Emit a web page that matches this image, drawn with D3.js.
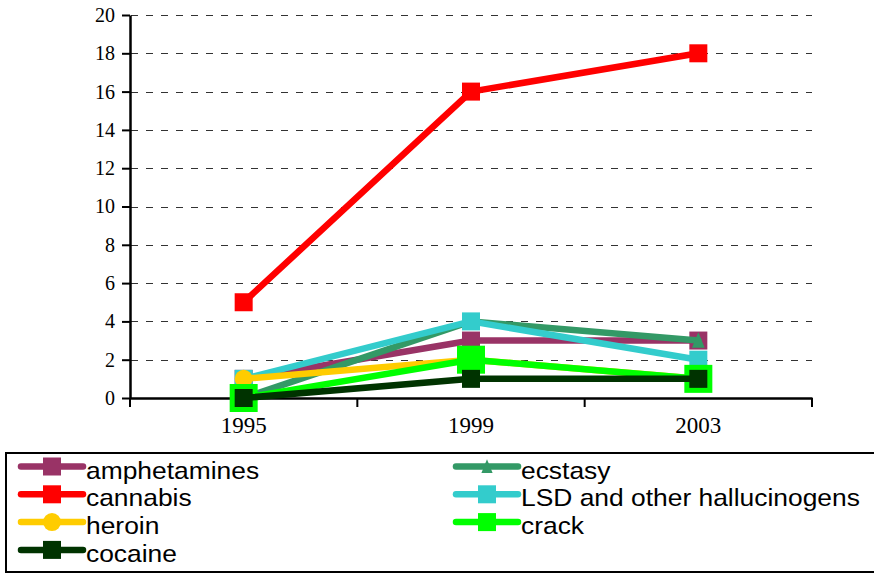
<!DOCTYPE html>
<html><head><meta charset="utf-8">
<script src="https://cdn.jsdelivr.net/npm/d3@7"></script>
<style>body{margin:0;background:#fff;overflow:hidden}
text.serif{font-family:"Liberation Serif","DejaVu Serif",serif !important}
text.sans{font-family:"Liberation Sans","DejaVu Sans",sans-serif !important}
</style>
</head><body><svg id="c" width="874" height="574"></svg>
<script>
// ---- data ----
const years = ["1995", "1999", "2003"];
const yTicks = [0, 2, 4, 6, 8, 10, 12, 14, 16, 18, 20];
const seriesNames = ["amphetamines", "ecstasy", "cannabis", "LSD and other hallucinogens", "heroin", "crack", "cocaine"];
const amphetamines = [1, 3, 3];
const ecstasy = [0, 4, 3];
const cannabis = [5, 16, 18];
const lsd = [1, 4, 2];
const heroin = [1, 2, 1];
const crack = [0, 2, 1];
const cocaine = [0, 1, 1];
const seriesValues = [amphetamines, ecstasy, cannabis, lsd, heroin, crack, cocaine];
const seriesColors = ["#993366", "#339966", "#ff0000", "#33cccc", "#ffcc00", "#00ff00", "#003300"];
const seriesMarkers = ["square", "triangle", "square", "square", "circle", "square", "square"];

// ---- layout ----
const svg = d3.select("#c");
const x = d3.scaleBand().domain(years).range([130, 812]).padding(0);
const cx = d => x(d) + x.bandwidth() / 2;
const y = d3.scaleLinear().domain([0, 20]).range([398, 15]);

// gridlines
svg.append("g").selectAll("line").data(yTicks.filter(t => t > 0)).join("line")
  .attr("x1", 131).attr("x2", 812)
  .attr("y1", d => Math.round(y(d)) + 0.5).attr("y2", d => Math.round(y(d)) + 0.5)
  .attr("stroke", "#333").attr("stroke-width", 1).attr("stroke-dasharray", "7,8");

// y axis
const yAxis = svg.append("g").attr("transform", "translate(130,0)")
  .call(d3.axisLeft(y).tickValues(yTicks).tickSize(8).tickSizeOuter(0).tickPadding(7));
yAxis.attr("font-family", "Liberation Serif").attr("font-size", 20);
yAxis.select(".domain").attr("stroke", "#000").attr("stroke-width", 2.5);
yAxis.selectAll(".tick line").attr("stroke", "#000").attr("stroke-width", 2);
yAxis.selectAll("text").attr("class", "serif").attr("fill", "#000");

// x axis
const xAxis = svg.append("g").attr("transform", "translate(0,398)")
  .call(d3.axisBottom(x).tickSize(0).tickSizeOuter(0).tickPadding(14));
xAxis.attr("font-family", "Liberation Serif").attr("font-size", 23);
xAxis.select(".domain").attr("stroke", "#000").attr("stroke-width", 2.5);
xAxis.selectAll("text").attr("class", "serif").attr("fill", "#000").attr("dy", "0.9em");
const edges = years.map(d => x(d)).concat([x.range()[1]]);
svg.append("g").selectAll("line").data(edges).join("line")
  .attr("x1", d => d).attr("x2", d => d).attr("y1", 398).attr("y2", 407)
  .attr("stroke", "#000").attr("stroke-width", 2);

// marker helper
function drawMarker(g, type, px, py, color, size) {
  if (type === "square") {
    g.append("rect").attr("x", px - size / 2).attr("y", py - size / 2)
      .attr("width", size).attr("height", size).attr("fill", color);
  } else if (type === "circle") {
    g.append("circle").attr("cx", px).attr("cy", py).attr("r", size / 2).attr("fill", color);
  } else if (type === "triangle") {
    const h = size * 0.85, w = size * 0.75;
    g.append("path").attr("d", `M${px},${py - h / 2 - 1}L${px + w / 2},${py + h / 2}L${px - w / 2},${py + h / 2}Z`)
      .attr("fill", color);
  }
}

// series
const line = d3.line().x((d, i) => cx(years[i])).y(d => y(d));
seriesNames.forEach((name, s) => {
  const g = svg.append("g");
  const vals = seriesValues[s];
  g.append("path").attr("d", line(vals)).attr("fill", "none")
    .attr("stroke", seriesColors[s]).attr("stroke-width", 6.5)
    .attr("stroke-linejoin", "round").attr("stroke-linecap", "round");
  vals.forEach((v, i) => {
    const size = name === "crack" ? 28 : (seriesMarkers[s] === "triangle" ? 17 : 18);
    drawMarker(g, seriesMarkers[s], cx(years[i]), y(v), seriesColors[s], size);
  });
});

// legend
svg.append("rect").attr("x", 6).attr("y", 453).attr("width", 900).attr("height", 119)
  .attr("fill", "none").attr("stroke", "#000").attr("stroke-width", 2);
const colX = [21, 456];
seriesNames.forEach((name, s) => {
  const col = s % 2, row = Math.floor(s / 2);
  const ly = 466.5 + row * 27.8;
  const x0 = colX[col], x1 = x0 + 62;
  const g = svg.append("g");
  g.append("line").attr("x1", x0).attr("x2", x1).attr("y1", ly).attr("y2", ly)
    .attr("stroke", seriesColors[s]).attr("stroke-width", 6.5).attr("stroke-linecap", "round");
  drawMarker(g, seriesMarkers[s], (x0 + x1) / 2, ly, seriesColors[s], seriesMarkers[s] === "triangle" ? 15 : 18);
  g.append("text").attr("class", "sans").attr("transform", `translate(${x1 + 3},${ly + 12}) scale(1.1,1)`)
    .attr("font-size", 24).attr("fill", "#000").text(name);
});
</script>
</body></html>
